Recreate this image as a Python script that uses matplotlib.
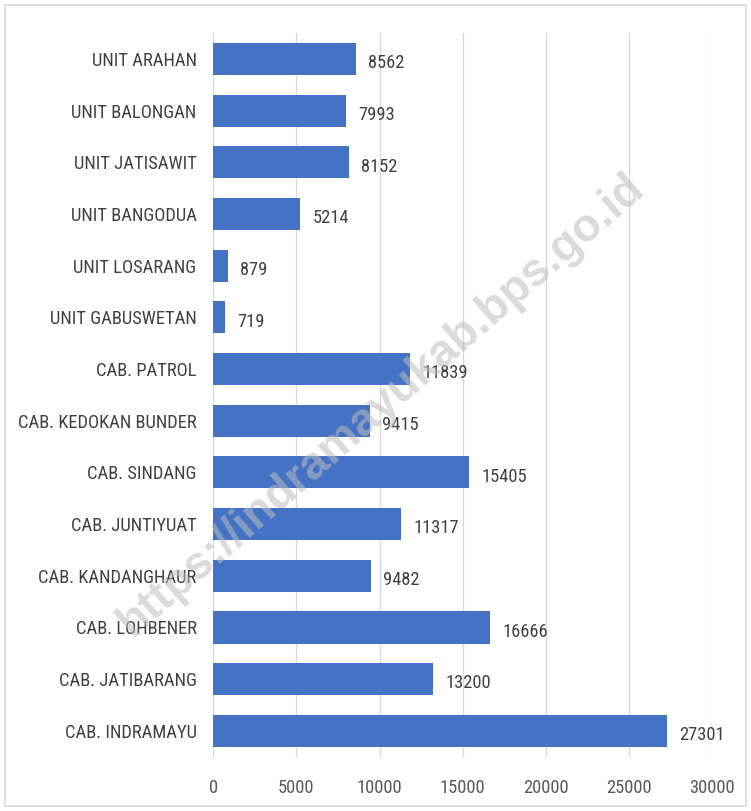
import matplotlib.pyplot as plt
from matplotlib.patches import Rectangle

units = ['UNIT ARAHAN', 'UNIT BALONGAN', 'UNIT JATISAWIT', 'UNIT BANGODUA',
         'UNIT LOSARANG', 'UNIT GABUSWETAN', 'CAB. PATROL', 'CAB. KEDOKAN BUNDER',
         'CAB. SINDANG', 'CAB. JUNTIYUAT', 'CAB. KANDANGHAUR', 'CAB. LOHBENER',
         'CAB. JATIBARANG', 'CAB. INDRAMAYU']
values = [8562, 7993, 8152, 5214, 879, 719, 11839, 9415, 15405, 11317, 9482,
          16666, 13200, 27301]
xticks = [0, 5000, 10000, 15000, 20000, 25000, 30000]

plt.rcParams['font.family'] = ['Liberation Sans Narrow', 'Roboto Condensed',
                               'Liberation Sans', 'DejaVu Sans']

fig = plt.figure(figsize=(7.51, 8.11), dpi=100)
ax = fig.add_axes([0.284, 0.067, 0.664, 0.892])

pos = list(range(len(units)))
bars = ax.barh(pos, values, height=0.62, color='#4472C4', zorder=2)
for b, v in zip(bars, values):
    ax.annotate(str(v), (b.get_width(), b.get_y() + b.get_height() / 2),
                xytext=(9, -3), textcoords='offset points', va='center',
                ha='left', fontsize=13.3, color='#404040')

ax.set_yticks(pos)
ax.set_yticklabels(units, fontsize=13.3, color='#404040')
ax.set_ylim(13.5, -0.5)
ax.set_xlim(0, 30000)
ax.set_xticks(xticks)
ax.set_xticklabels([str(t) for t in xticks], fontsize=13.3, color='#595959')
ax.tick_params(axis='y', length=0, pad=12)
ax.tick_params(axis='x', length=0, pad=16)
ax.xaxis.grid(True, color='#d9d9d9', linewidth=1, zorder=0)
for s in ax.spines.values():
    s.set_visible(False)

fig.text(0.508, 0.50, 'https://indramayukab.bps.go.id', rotation=41,
         fontsize=33, fontweight='bold', color='#bdbdbd', alpha=0.55,
         ha='center', va='center', family=['Liberation Sans', 'DejaVu Sans'])

fig.patches.append(Rectangle((0.006, 0.006), 0.988, 0.988, transform=fig.transFigure,
                             fill=False, edgecolor='#d9d9d9', linewidth=1.2))

fig.savefig('out.png', dpi=100)
